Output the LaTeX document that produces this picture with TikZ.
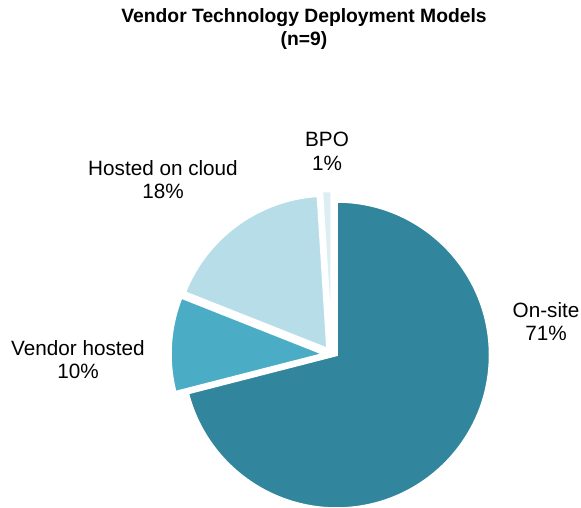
\documentclass[tikz,border=0pt]{standalone}
\usepackage{fontspec}
\setmainfont{Liberation Sans}
\usetikzlibrary{calc}
\definecolor{onsiteC}{HTML}{31859C}
\definecolor{vendorC}{HTML}{4BACC6}
\definecolor{cloudC}{HTML}{B7DEE8}
\definecolor{bpoC}{HTML}{DAEEF3}
\tikzset{
  slice/.style={draw=white, line width=2.5pt, line join=miter},
  lbl/.style={anchor=north, inner sep=0pt, align=center,
    font=\fontsize{20.7}{23.5}\selectfont},
  ttl/.style={anchor=north, inner sep=0pt, align=center,
    font=\fontsize{19.3}{23.3}\selectfont\bfseries}
}
\begin{document}
\begin{tikzpicture}[x=1pt,y=1pt]
  \useasboundingbox (0,0) rectangle (581,508);
  \fill[white] (0,0) rectangle (581,508);

  % pie centre and radius
  \def\R{153.5}
  \coordinate (c) at (336.5,153);
  \coordinate (cv) at ($(c)+(-12.5,1)$);
  \coordinate (cc) at ($(c)+(-9,6)$);
  \coordinate (cb) at ($(c)+(-5,10.5)$);

  % On-site 71%
  \path[slice, fill=onsiteC] (c) -- ++(90:\R)
    arc[start angle=90, end angle=-165.6, radius=\R] -- cycle;
  % Vendor hosted 10% (exploded)
  \path[slice, fill=vendorC] (cv) -- ++(194.4:\R)
    arc[start angle=194.4, end angle=158.4, radius=\R] -- cycle;
  % Hosted on cloud 18% (exploded)
  \path[slice, fill=cloudC] (cc) -- ++(158.4:\R)
    arc[start angle=158.4, end angle=93.6, radius=\R] -- cycle;
  % BPO 1% (exploded)
  \path[slice, fill=bpoC] (cb) -- ++(93.6:\R)
    arc[start angle=93.6, end angle=90, radius=\R] -- cycle;

  % title and labels
  \node[ttl] (title) at (304,499.5) {Vendor Technology Deployment Models\\(n=9)};
  \node[lbl] (bpo) at (327,375.8) {BPO\\1\%};
  \node[lbl] (cloud) at (163,347.8) {Hosted on cloud\\18\%};
  \node[lbl] (onsite) at (546,205.8) {On-site\\71\%};
  \node[lbl] (vendor) at (78,167.8) {Vendor hosted\\10\%};
\end{tikzpicture}
\end{document}
